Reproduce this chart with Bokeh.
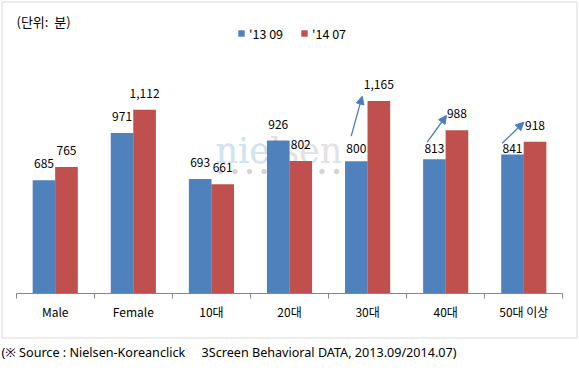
from bokeh.plotting import figure
from bokeh.models import (ColumnDataSource, LinearAxis, FixedTicker, Range1d, Label,
                          Arrow, NormalHead, Legend, LegendItem, Grid)
from bokeh.transform import dodge
from bokeh.core.properties import value
from bokeh.embed import file_html
from bokeh.resources import INLINE

# ---------------- data ----------------
categories = ["Male", "Female", "10대", "20대", "30대", "40대", "50대 이상"]
series_names = ["'13 09", "'14 07"]
values_1309 = [685, 971, 693, 926, 800, 813, 841]
values_1407 = [765, 1112, 661, 802, 1165, 988, 918]
arrow_categories = ["30대", "40대", "50대 이상"]
unit_label = "(단위:\u00a0 분)"
source_note = ("(※ Source : Nielsen-Koreanclick\u00a0\u00a0\u00a0\u00a0 3Screen "
               "Behavioral DATA, 2013.09/2014.07)")

# ---------------- styles / layout ----------------
BLUE = "#4F81BD"
RED = "#C0504D"
ARROW = "#4A7EBB"
AXIS = "#868686"
BOX = "#D9D9D9"
FONT = "Noto Sans CJK KR"

W, H = 579, 370          # canvas == frame
CAT_W = 78.09            # px per category
PX_PER_UNIT = 0.1652     # px per minute
LEFT_PX = 15.7           # first category boundary, px from left
BASE_PX = 293            # baseline, px from top
X0 = -LEFT_PX / CAT_W
X1 = X0 + W / CAT_W
Y1 = BASE_PX / PX_PER_UNIT
Y0 = Y1 - H / PX_PER_UNIT


def fx(px):
    """canvas pixel x -> data x (decorations only)"""
    return X0 + px / CAT_W


def fy(py):
    """canvas pixel y (from top) -> data y (decorations only)"""
    return Y1 - py / PX_PER_UNIT


p = figure(width=W, height=H, output_backend="svg", toolbar_location=None,
           x_range=Range1d(X0, X1), y_range=Range1d(Y0, Y1),
           x_axis_location=None, y_axis_location=None,
           min_border=0)
for g in p.select(type=Grid):
    g.visible = False
p.outline_line_color = None
p.background_fill_color = "white"
p.border_fill_color = "white"

n = len(categories)
centers = [i + 0.5 for i in range(n)]
arrow_idx = [categories.index(c) for c in arrow_categories]
arrow_level = max(values_1309[i] for i in arrow_idx)

src = ColumnDataSource(dict(x=centers, cat=categories, a=values_1309, b=values_1407))

# ---------------- outer box ----------------
p.quad(left=[fx(1.5)], right=[fx(576.5)], top=[fy(1.5)], bottom=[fy(337.5)],
       fill_color=None, line_color=BOX, line_width=1, level="underlay")

# ---------------- watermark ----------------
p.add_layout(Label(x=215, y=H - 150, x_units="screen", y_units="screen", text="nielsen",
                   text_font="DejaVu Serif", text_font_size="35px", text_color="#E2E2E2",
                   text_baseline="alphabetic", level="underlay"))
p.add_layout(Label(x=215, y=H - 150, x_units="screen", y_units="screen", text="nie",
                   text_font="DejaVu Serif", text_font_size="35px", text_color="#CFE6F1",
                   text_baseline="alphabetic", level="underlay"))
dot_x = [fx(220 + 14.5 * k) for k in range(10)]
p.scatter(x=dot_x, y=[fy(171)] * len(dot_x), size=4.5, color="#D4D4D4", level="underlay")

# ---------------- bars ----------------
BAR_W = 0.29
r1 = p.vbar(x=dodge("x", -0.144, range=p.x_range), top="a", width=BAR_W, source=src,
            fill_color=BLUE, line_color=None)
r2 = p.vbar(x=dodge("x", 0.144, range=p.x_range), top="b", width=BAR_W, source=src,
            fill_color=RED, line_color=None)

# ---------------- value labels ----------------
plain = [i for i in range(n) if i not in arrow_idx]
blue_plain = ColumnDataSource(dict(x=[centers[i] - 0.144 for i in plain],
                                   y=[values_1309[i] for i in plain],
                                   t=[f"{values_1309[i]:,}" for i in plain]))
blue_arrow = ColumnDataSource(dict(x=[centers[i] - 0.144 for i in arrow_idx],
                                   y=[arrow_level for i in arrow_idx],
                                   t=[f"{values_1309[i]:,}" for i in arrow_idx]))
red_src = ColumnDataSource(dict(x=[c + 0.144 for c in centers], y=values_1407,
                                t=[f"{v:,}" for v in values_1407]))
lab_kw = dict(text="t", text_font=value(FONT), text_font_size="12px", text_color="#000000",
              text_align="center", text_baseline="middle")
p.text(x="x", y="y", source=blue_plain, y_offset=-16.5, **lab_kw)
p.text(x="x", y="y", source=blue_arrow, y_offset=-6, **lab_kw)
p.text(x="x", y="y", source=red_src, y_offset=-16.5, **lab_kw)

# ---------------- arrows ----------------
arrow_shapes = [  # (x offset start, px y start, x offset end, px y end) within category
    (0.290, 135.7, 0.431, 95.7),
    (0.263, 141.7, 0.510, 115.0),
    (0.224, 142.7, 0.500, 121.7),
]
for i, (xs, ys, xe, ye) in zip(arrow_idx, arrow_shapes):
    p.add_layout(Arrow(end=NormalHead(size=8, fill_color=ARROW, line_color=ARROW),
                       x_start=i + xs, y_start=fy(ys), x_end=i + xe, y_end=fy(ye),
                       line_color=ARROW, line_width=1.3))

# ---------------- category axis (ticks at boundaries) ----------------
x_axis = LinearAxis(fixed_location=0, bounds=(0, n),
                    ticker=FixedTicker(ticks=centers, minor_ticks=list(range(n + 1))),
                    major_label_overrides={c: cat for c, cat in zip(centers, categories)},
                    axis_line_color=AXIS, major_tick_line_color=None,
                    major_tick_out=0, major_tick_in=0,
                    minor_tick_line_color=AXIS, minor_tick_out=5, minor_tick_in=0,
                    major_label_standoff=4, major_label_text_font=FONT,
                    major_label_text_font_size="12px", major_label_text_color="#000000")
p.add_layout(x_axis, "below")

# ---------------- legend ----------------
legend = Legend(items=[LegendItem(label=series_names[0], renderers=[r1]),
                       LegendItem(label=series_names[1], renderers=[r2])],
                orientation="horizontal", location=(237, 327.5),
                glyph_width=8, glyph_height=8, label_standoff=4, spacing=17,
                padding=0, margin=0, border_line_color=None, background_fill_alpha=0,
                label_text_font=FONT, label_text_font_size="12.5px", label_height=12,
                label_text_color="#000000")
p.add_layout(legend)

# ---------------- texts ----------------
p.add_layout(Label(x=16, y=H - 21, x_units="screen", y_units="screen", text=unit_label,
                   text_font=FONT, text_font_size="13px", text_color="#000000",
                   text_baseline="middle"))
p.add_layout(Label(x=1, y=H - 352, x_units="screen", y_units="screen", text=source_note,
                   text_font="Noto Sans", text_font_size="12.6px", text_color="#000000",
                   text_baseline="middle"))

open("out.html", "w").write(file_html(p, INLINE))
